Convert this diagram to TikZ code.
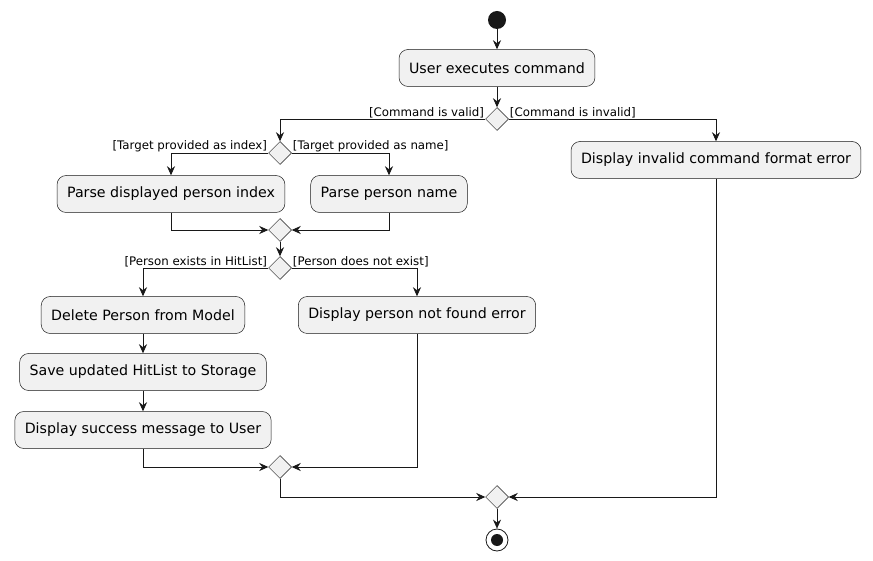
\documentclass[tikz,border=0pt]{standalone}
\usepackage{fontspec}
\setmainfont{DejaVu Sans}
\usetikzlibrary{shapes.geometric,arrows.meta}
\definecolor{boxfill}{HTML}{F1F1F1}
\definecolor{boxline}{HTML}{181818}
\begin{document}
\begin{tikzpicture}[x=1pt,y=-1pt,
    % activity box
    act/.style={draw=boxline, fill=boxfill, rounded corners=9pt, line width=0.5pt,
        minimum height=37pt, inner xsep=10pt, font=\fontsize{14.2}{16}\selectfont},
    % decision / merge
    dec/.style={diamond, draw=boxline, fill=boxfill, line width=0.5pt,
        minimum size=23pt, inner sep=0pt},
    flow/.style={draw=boxline, line width=0.6pt, -{Stealth[length=9pt,width=8pt,inset=3pt]}},
    guard/.style={font=\fontsize{11.8}{13}\selectfont, inner sep=1pt}
    ]
    \useasboundingbox (0,0) rectangle (873,561);
    % start and end
    \node [circle, fill=boxline, minimum size=18pt, inner sep=0pt] (start) at (497,20) {};
    \node [circle, draw=boxline, line width=0.8pt, minimum size=22pt, inner sep=0pt] (stop) at (497,540) {};
    \fill [boxline] (stop) circle (6pt);
    % activities
    \node [act] (exec) at (497,68) {User executes command};
    \node [act] (invalid) at (716,160) {Display invalid command format error};
    \node [act] (pindex) at (171,194) {Parse displayed person index};
    \node [act] (pname) at (389,194) {Parse person name};
    \node [act] (delete) at (143,315) {Delete Person from Model};
    \node [act] (notfound) at (417,315) {Display person not found error};
    \node [act] (save) at (143,372) {Save updated HitList to Storage};
    \node [act] (success) at (143,430) {Display success message to User};
    % decisions and merges
    \foreach \name/\x/\y in {valid/497/119, target/280/153, mtarget/280/230,
        exists/280/268, mexists/280/467, mall/497/497}
        \node [dec] (\name) at (\x,\y) {};
    % main line
    \draw [flow] (start) -- (exec);
    \draw [flow] (exec) -- (valid);
    % command valid / invalid
    \draw [flow] (valid.west) -| (target.north);
    \draw [flow] (valid.east) -| (invalid.north);
    \node [guard, anchor=south east] at (valid.west) {[Command is valid]};
    \node [guard, anchor=south west] at (valid.east) {[Command is invalid]};
    % target type
    \draw [flow] (target.west) -| (pindex.north);
    \draw [flow] (target.east) -| (pname.north);
    \node [guard, anchor=south east] at (target.west) {[Target provided as index]};
    \node [guard, anchor=south west] at (target.east) {[Target provided as name]};
    \draw [flow] (pindex.south) |- (mtarget.west);
    \draw [flow] (pname.south) |- (mtarget.east);
    \draw [flow] (mtarget) -- (exists);
    % person exists
    \draw [flow] (exists.west) -| (delete.north);
    \draw [flow] (exists.east) -| (notfound.north);
    \node [guard, anchor=south east] at (exists.west) {[Person exists in HitList]};
    \node [guard, anchor=south west] at (exists.east) {[Person does not exist]};
    \draw [flow] (delete) -- (save);
    \draw [flow] (save) -- (success);
    \draw [flow] (success.south) |- (mexists.west);
    \draw [flow] (notfound.south) |- (mexists.east);
    % final merge
    \draw [flow] (mexists.south) |- (mall.west);
    \draw [flow] (invalid.south) |- (mall.east);
    \draw [flow] (mall) -- (stop);
\end{tikzpicture}
\end{document}
